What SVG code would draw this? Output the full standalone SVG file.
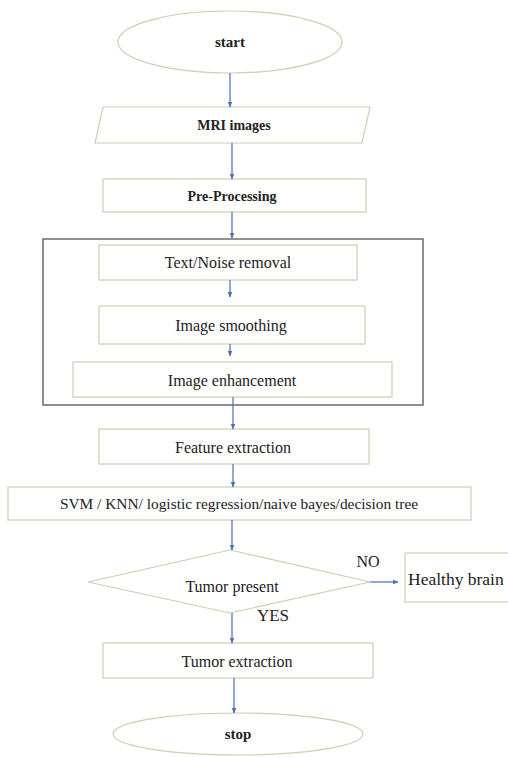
<svg xmlns="http://www.w3.org/2000/svg" width="508" height="757" viewBox="0 0 508 757">
<defs>
<marker id="ah" viewBox="0 0 10 10" refX="9" refY="5" markerWidth="5" markerHeight="5" orient="auto">
<path d="M0,1 L10,5 L0,9 z" fill="#4a6fb5"/>
</marker>
<style>
.sh{fill:#ffffff;stroke:#c9cfb4;stroke-width:1.2}
text{font-family:'Liberation Serif','DejaVu Serif','Times New Roman',serif;font-size:16px;fill:#222;text-anchor:middle}
.b{font-weight:bold;font-size:14px}
.c{stroke:#4a6fb5;stroke-width:1.2;fill:none;marker-end:url(#ah)}
</style>
</defs>
<rect width="508" height="757" fill="#ffffff"/>
<g id="group-preprocess">
<rect x="43" y="239" width="380" height="166" fill="none" stroke="#555" stroke-width="1.3"/>
</g>
<g id="start">
<ellipse class="sh" cx="230" cy="42" rx="112" ry="31"/>
<text class="b" x="230" y="47" style="font-size:15px">start</text>
</g>
<g id="mri">
<polygon class="sh" points="103,107 370,107 362,143 95,143"/>
<text class="b" x="234" y="130">MRI images</text>
</g>
<g id="pre">
<rect class="sh" x="103" y="179" width="263" height="33"/>
<text class="b" x="232" y="201">Pre-Processing</text>
</g>
<g id="noise">
<rect class="sh" x="99" y="245" width="258" height="35"/>
<text x="228" y="268">Text/Noise removal</text>
</g>
<g id="smooth">
<rect class="sh" x="99" y="306" width="266" height="38"/>
<text x="231" y="331">Image smoothing</text>
</g>
<g id="enhance">
<rect class="sh" x="73" y="362" width="319" height="35"/>
<text x="232" y="386">Image enhancement</text>
</g>
<g id="feature">
<rect class="sh" x="99" y="429" width="270" height="35"/>
<text x="233" y="453">Feature extraction</text>
</g>
<g id="classifier">
<rect class="sh" x="8" y="487" width="463" height="33"/>
<text x="239" y="509" style="font-size:15.4px">SVM / KNN/ logistic regression/naive bayes/decision tree</text>
</g>
<g id="decision">
<polygon class="sh" points="230,550 370,582 230,613 88,582"/>
<text x="232" y="592">Tumor present</text>
</g>
<g id="healthy">
<rect class="sh" x="405" y="553" width="112" height="49"/>
<text x="408" y="585" style="text-anchor:start;font-size:17.5px">Healthy brain</text>
</g>
<g id="tumor">
<rect class="sh" x="103" y="643" width="270" height="35"/>
<text x="237" y="667">Tumor extraction</text>
</g>
<g id="stop">
<ellipse class="sh" cx="238" cy="734" rx="125" ry="21"/>
<text class="b" x="238" y="739" style="font-size:15px">stop</text>
</g>
<g id="connectors">
<line class="c" x1="230" y1="73" x2="230" y2="107"/>
<line class="c" x1="232" y1="143" x2="232" y2="179"/>
<line class="c" x1="232" y1="212" x2="232" y2="238"/>
<line class="c" x1="230" y1="280" x2="230" y2="297"/>
<line class="c" x1="230" y1="344" x2="230" y2="356"/>
<line class="c" x1="233" y1="397" x2="233" y2="429"/>
<line class="c" x1="233" y1="464" x2="233" y2="487"/>
<line class="c" x1="232" y1="520" x2="232" y2="550"/>
<line class="c" x1="370" y1="582" x2="398" y2="582"/>
<line class="c" x1="232" y1="613" x2="232" y2="643"/>
<line class="c" x1="234" y1="678" x2="234" y2="713"/>
<text x="368" y="567">NO</text>
<text x="273" y="621" style="font-size:17px">YES</text>
</g>
</svg>
